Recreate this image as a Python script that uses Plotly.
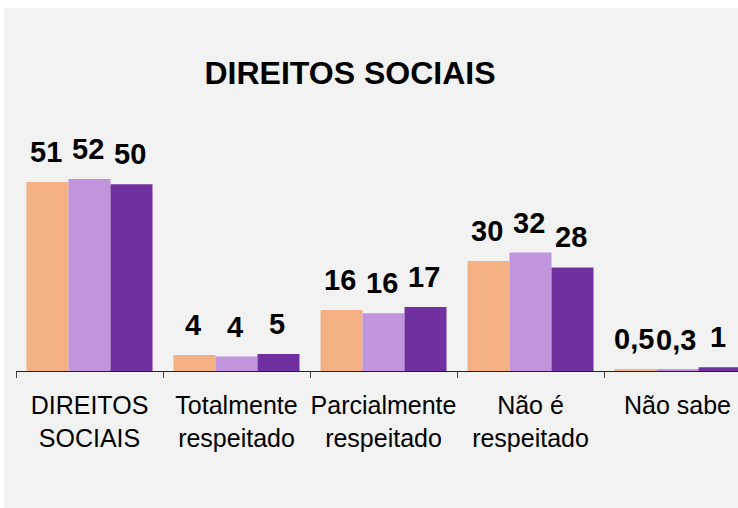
import plotly.graph_objects as go

categories = ["DIREITOS<br>SOCIAIS", "Totalmente<br>respeitado", "Parcialmente<br>respeitado",
              "Não é<br>respeitado", "Não sabe"]
serie1 = [51.1, 4.3, 16.5, 29.7, 0.5]
serie2 = [51.9, 3.9, 15.6, 32.0, 0.3]
serie3 = [50.5, 4.6, 17.3, 28.0, 1.0]
labels1 = ["51", "4", "16", "30", "0,5"]
labels2 = ["52", "4", "16", "32", "0,3"]
labels3 = ["50", "5", "17", "28", "1"]
names = ["Série 1", "Série 2", "Série 3"]
colors = ["#F4B183", "#C095DE", "#7030A0"]

W, H = 738, 508
ML, MR, MT, MB = 16, 0, 149, 137
FONT = "Liberation Sans, Arial, sans-serif"

fig = go.Figure()
series = [serie1, serie2, serie3]
labels = [labels1, labels2, labels3]
for s, n, c in zip(series, names, colors):
    fig.add_trace(go.Bar(x=categories, y=s, name=n, marker=dict(color=c, line=dict(width=0)),
                         showlegend=False, hoverinfo="skip"))

# data labels above bars
bar_px = 42
for i, (s, lab) in enumerate(zip(series, labels)):
    for cat, v, t in zip(categories, s, lab):
        fig.add_annotation(x=cat, y=v, text="<b>" + t + "</b>", showarrow=False, yanchor="bottom",
                           xanchor="center", xshift=(i - 1) * bar_px - 2, yshift=14,
                           font=dict(family=FONT, size=29, color="#000000"),
                           borderpad=0, borderwidth=0)

plot_w = W - ML - MR
plot_h = H - MT - MB
cat_px = 147
ncat_visible = plot_w / cat_px

# gray background panel (starts 4px from left, 8px from top)
fig.add_shape(type="rect", xref="paper", yref="paper", layer="below",
              x0=(4 - ML) / plot_w, x1=1.05,
              y0=-(MB + 5) / plot_h, y1=(H - 8 - MB) / plot_h,
              fillcolor="#F2F2F2", line=dict(width=0))

fig.update_layout(
    width=W, height=H,
    margin=dict(l=ML, r=MR, t=MT, b=MB, autoexpand=False),
    paper_bgcolor="#FFFFFF",
    plot_bgcolor="rgba(0,0,0,0)",
    barmode="group",
    bargap=21 / 147,
    bargroupgap=0,
    title=dict(text="<b>DIREITOS SOCIAIS</b>", x=350 / W, xanchor="center",
               y=1 - 73 / H, yanchor="middle", yref="container",
               font=dict(family=FONT, size=32, color="#000000")),
    xaxis=dict(range=[-0.5, -0.5 + ncat_visible], showline=True, linecolor="#222222",
               linewidth=1, ticks="outside", tickson="boundaries", ticklen=6,
               tickcolor="#444444", tickangle=0, automargin=False, ticklabelstandoff=12,
               tickfont=dict(family=FONT, size=25, color="#000000"),
               showgrid=False, zeroline=False, fixedrange=True),
    yaxis=dict(range=[0, plot_h / 3.7], visible=False, showgrid=False, zeroline=False,
               automargin=False),
)

fig.write_html("out.html", config={"displayModeBar": False},
               post_script="document.body.style.margin='0';document.body.style.overflow='hidden';")
